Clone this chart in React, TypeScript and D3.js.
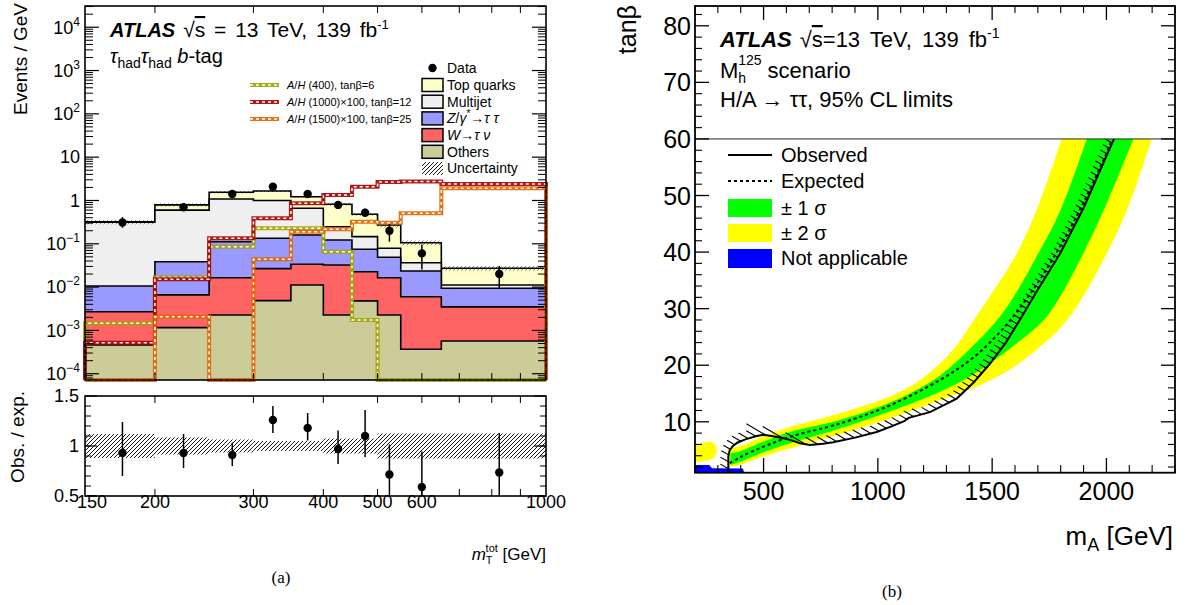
import React from 'react';
import * as d3 from 'd3';

const FONT = "'Liberation Sans', Arial, Helvetica, sans-serif";

// ---------- (a) m_T^tot, tau_had tau_had b-tag ----------
const binEdges = [150, 200, 250, 300, 350, 400, 450, 500, 550, 650, 1000];
// cumulative stack heights (Events / GeV)
const othersTop = [4.6e-4, 1.16e-3, 2.27e-3, 4.86e-3, 1.12e-2, 2.27e-3, 4.8e-3, 2.27e-3, 3.66e-4, 5.7e-4];
const wTauNuTop = [2.7e-3, 6.6e-3, 0.0165, 0.0267, 0.0336, 0.0324, 0.0227, 0.0165, 6.0e-3, 3.5e-3];
const zTauTauTop = [0.0106, 0.0386, 0.112, 0.134, 0.16, 0.122, 0.0746, 0.0488, 0.0235, 9.4e-3];
const multijetTop = [0.313, 0.6, 1.08, 0.996, 0.66, 0.248, 0.146, 0.0787, 0.0366, 0.0112];
const topQuarksTop = [0.32, 0.79, 1.55, 1.66, 1.22, 0.82, 0.48, 0.272, 0.106, 0.0272];
// signals (0 = empty bin)
const sig400 = [1.46e-3, 0.0168, 0.0857, 0.228, 0.228, 0.0657, 1.74e-3, 0, 0, 0];
const sig1000 = [5.2e-4, 0.0151, 0.134, 0.388, 0.86, 1.34, 2.08, 2.68, 2.75, 2.4];
const sig1500 = [0, 2.07e-3, 0, 0.0438, 0.19, 0.216, 0.324, 0.307, 0.506, 1.91];
const dataVals = [0.31, 0.7, 1.41, 2.08, 1.41, 0.79, 0.52, 0.2, 0.06, 0.02];
const ratioVals = [0.93, 0.93, 0.91, 1.26, 1.18, 0.97, 1.1, 0.715, 0.59, 0.735];
const ratioHi = [1.24, 1.12, 1.035, 1.4, 1.33, 1.155, 1.36, 1.015, 0.945, 1.13];
const ratioLo = [0.7, 0.78, 0.8, 1.13, 1.055, 0.82, 0.89, 0.4, 0.25, 0.35];
const ratioUnc = [0.12, 0.085, 0.065, 0.05, 0.05, 0.075, 0.075, 0.125, 0.125, 0.125];
const massLabels = [150, 200, 300, 400, 500, 600, 1000];

// ---------- (b) tanβ vs m_A limits ----------
const observedLimit = [[346, 1.0], [346, 3.9], [352, 5.0], [365, 5.7], [385, 6.3], [420, 6.9], [470, 7.5], [500, 7.7],
  [560, 7.3], [616, 6.8], [660, 6.2], [703, 5.9], [760, 6.1], [805, 6.4], [900, 7.2], [995, 8.2], [1060, 9.2],
  [1115, 10.1], [1135, 10.7], [1228, 11.7], [1345, 14.1], [1420, 17.0], [1491, 20.3], [1560, 24.0], [1615, 27.6],
  [1700, 33.4], [1797, 39.7], [1900, 47.8], [2033, 60]];
const expectedLimit = [[352, 2.7], [400, 3.8], [500, 5.6], [616, 7.35], [834, 9.7], [1053, 12.9], [1272, 17.4],
  [1400, 20.8], [1500, 24.4], [1600, 29.0], [1700, 34.6], [1800, 41.2], [1900, 48.8], [2000, 57.5], [2025, 60]];
const band1Up = [[355, 4.4], [397, 4.8], [500, 6.5], [616, 8.2], [834, 10.3], [1053, 13.4], [1180, 15.9], [1272, 18.2],
  [1400, 22.8], [1520, 27.9], [1600, 32.5], [1701, 39.7], [1800, 47.5], [1914, 60]];
const band1Dn = [[355, 2.4], [397, 2.9], [500, 4.6], [616, 6.2], [834, 8.8], [1053, 11.8], [1272, 15.3], [1400, 17.9],
  [1500, 20.6], [1600, 23.6], [1724, 27.9], [1800, 32.3], [1898, 39.7], [2000, 48.5], [2118, 60]];
const band2Up = [[342, 5.3], [397, 5.7], [500, 7.5], [616, 9.1], [834, 11.5], [1053, 14.5], [1170, 17.0], [1272, 20.3],
  [1350, 23.8], [1418, 27.9], [1500, 32.8], [1607, 39.7], [1700, 48.0], [1804, 60]];
const band2Dn = [[342, 2.0], [397, 2.4], [500, 3.9], [616, 5.3], [834, 7.8], [1053, 10.6], [1272, 13.8], [1491, 17.3],
  [1650, 21.3], [1826, 27.9], [2001, 39.7], [2100, 48.5], [2198, 60]];
const yellowBlob = [[200, 3.0], [200, 5.8], [230, 6.2], [265, 6.5], [288, 6.0], [295, 5.0], [285, 3.8], [260, 3.2], [230, 3.0]];
const notApplicable = [[200, 1], [200, 2.35], [262, 2.35], [275, 1.8], [410, 1.75], [415, 1]];

function PanelA() {
  const x = d3.scaleLog().domain([150, 1000]).range([85, 546]);
  const y = d3.scaleLog().domain([10 ** -4.145, 10 ** 4.49]).range([380, 6]);
  const yr = d3.scaleLinear().domain([0.5, 1.5]).range([496, 396]);
  const [yMin, yMax] = y.domain();
  const clamp = (v) => Math.max(v, yMin);
  const steps = (vals) => vals.flatMap((v, i) => [[binEdges[i], clamp(v)], [binEdges[i + 1], clamp(v)]]);
  const line = d3.line().x(d => x(d[0])).y(d => y(d[1]));
  const area = d3.area().x(d => x(d[0])).y0(y(yMin)).y1(d => y(d[1]));
  const centers = binEdges.slice(0, -1).map((e, i) => (e + binEdges[i + 1]) / 2);

  const stacks = [
    { vals: topQuarksTop, fill: '#ffffcc' },
    { vals: multijetTop, fill: '#efefef' },
    { vals: zTauTauTop, fill: '#9999ff' },
    { vals: wTauNuTop, fill: '#ff6464' },
    { vals: othersTop, fill: '#cccc99' },
  ];
  const signals = [
    { vals: sig400, color: '#a3a300', label: <><tspan fontStyle="italic">A</tspan>/<tspan fontStyle="italic">H</tspan> (400), tanβ=6</> },
    { vals: sig1000, color: '#a80000', label: <><tspan fontStyle="italic">A</tspan>/<tspan fontStyle="italic">H</tspan> (1000)×100, tanβ=12</> },
    { vals: sig1500, color: '#e06400', label: <><tspan fontStyle="italic">A</tspan>/<tspan fontStyle="italic">H</tspan> (1500)×100, tanβ=25</> },
  ];
  const legend = [
    { fill: '#ffffcc', label: <>Top quarks</> },
    { fill: '#efefef', label: <>Multijet</> },
    { fill: '#9999ff', label: <><tspan fontStyle="italic">Z</tspan>/<tspan fontStyle="italic">γ</tspan><tspan dy={-6} fontSize={10}>*</tspan><tspan dy={6}>→</tspan><tspan fontStyle="italic">τ τ</tspan></> },
    { fill: '#ff6464', label: <><tspan fontStyle="italic">W</tspan>→<tspan fontStyle="italic">τ ν</tspan></> },
    { fill: '#cccc99', label: <>Others</> },
    { fill: 'url(#hatchA)', label: <>Uncertainty</>, noStroke: true },
  ];

  const majors = d3.range(-4, 5);
  const minors = d3.range(-5, 5).flatMap(k => d3.range(2, 10).map(m => m * 10 ** k)).filter(v => v > yMin && v < yMax);
  const xTicks = d3.range(200, 1000, 100);
  const rMinor = d3.range(0.6, 1.45, 0.1);

  return (
    <g>
      {/* stacked backgrounds */}
      {stacks.map((s, i) => (
        <g key={i}>
          <path d={area(steps(s.vals))} fill={s.fill} />
          <path d={line(steps(s.vals))} fill="none" stroke="#000" strokeWidth={1.6} />
        </g>
      ))}
      {/* uncertainty on the total */}
      {topQuarksTop.map((t, i) => (
        <rect key={i} x={x(binEdges[i])} width={x(binEdges[i + 1]) - x(binEdges[i])}
          y={y(t * (1 + ratioUnc[i]))} height={y(t * (1 - ratioUnc[i])) - y(t * (1 + ratioUnc[i]))} fill="url(#hatchA)" opacity={0.5} />
      ))}
      {/* signals */}
      {signals.map((s, i) => {
        const d = line([[150, yMin], ...steps(s.vals), [1000, yMin]]);
        return (
          <g key={i}>
            <path d={d} fill="none" stroke={s.color} strokeWidth={4} opacity={0.9} />
            <path d={d} fill="none" stroke="#fff" strokeWidth={1.5} strokeDasharray="3 3" />
          </g>
        );
      })}
      {/* data */}
      {dataVals.map((v, i) => (
        <g key={i}>
          <line x1={x(centers[i])} x2={x(centers[i])} y1={y(v * ratioHi[i] / ratioVals[i])} y2={y(v * ratioLo[i] / ratioVals[i])} stroke="#000" strokeWidth={1.5} />
          <circle cx={x(centers[i])} cy={y(v)} r={4.2} fill="#000" />
        </g>
      ))}
      {/* upper frame and ticks */}
      <rect x={85} y={6} width={461} height={374} fill="none" stroke="#000" strokeWidth={1.6} />
      {majors.map(k => (
        <g key={k}>
          <line x1={85} x2={99} y1={y(10 ** k)} y2={y(10 ** k)} stroke="#000" strokeWidth={1.2} />
          <line x1={546} x2={532} y1={y(10 ** k)} y2={y(10 ** k)} stroke="#000" strokeWidth={1.2} />
          <text x={80} y={y(10 ** k)} dy="0.35em" textAnchor="end" fontSize={18}>
            {k === 0 ? '1' : k === 1 ? '10' : <><tspan>10</tspan><tspan dy={-8} fontSize={12}>{k < 0 ? '−' + (-k) : k}</tspan></>}
          </text>
        </g>
      ))}
      {minors.map((v, i) => (
        <g key={i}>
          <line x1={85} x2={93} y1={y(v)} y2={y(v)} stroke="#000" strokeWidth={1} />
          <line x1={546} x2={538} y1={y(v)} y2={y(v)} stroke="#000" strokeWidth={1} />
        </g>
      ))}
      {xTicks.map(v => (
        <g key={v}>
          <line x1={x(v)} x2={x(v)} y1={380} y2={373} stroke="#000" strokeWidth={1} />
          <line x1={x(v)} x2={x(v)} y1={6} y2={13} stroke="#000" strokeWidth={1} />
        </g>
      ))}
      <text transform="translate(27,3) rotate(-90)" textAnchor="end" fontSize={19}>Events / GeV</text>
      <text x={110} y={37} fontSize={20}>
        <tspan fontWeight="bold" fontStyle="italic">ATLAS</tspan>
        <tspan dx={8} fontSize={21}>√</tspan><tspan fontSize={21} textDecoration="overline">s</tspan>
        <tspan fontSize={21} wordSpacing={3}> = 13 TeV, 139 fb</tspan>
        <tspan dy={-8} fontSize={13}>-1</tspan>
      </text>
      <text x={110} y={63} fontSize={20}>
        <tspan fontStyle="italic">τ</tspan><tspan dy={5} fontSize={14}>had</tspan>
        <tspan dy={-5} fontStyle="italic">τ</tspan><tspan dy={5} fontSize={14}>had</tspan>
        <tspan dy={-5} fontStyle="italic"> b</tspan><tspan>-tag</tspan>
      </text>
      {/* legends */}
      {signals.map((s, i) => {
        const ly = 85 + i * 17;
        return (
          <g key={i}>
            <line x1={250} x2={279} y1={ly} y2={ly} stroke={s.color} strokeWidth={4} opacity={0.9} />
            <line x1={250} x2={279} y1={ly} y2={ly} stroke="#fff" strokeWidth={1.5} strokeDasharray="3 3" />
            <text x={287} y={ly} dy="0.35em" fontSize={11}>{s.label}</text>
          </g>
        );
      })}
      <circle cx={432.5} cy={68} r={4.2} fill="#000" />
      <text x={447} y={68} dy="0.35em" fontSize={14}>Data</text>
      {legend.map((l, i) => {
        const ly = 85 + i * 16.7;
        return (
          <g key={i}>
            <rect x={422} y={ly - 6.5} width={21} height={13} fill={l.fill} stroke={l.noStroke ? 'none' : '#000'} strokeWidth={1.5} />
            <text x={447} y={ly} dy="0.35em" fontSize={14}>{l.label}</text>
          </g>
        );
      })}

      {/* ratio pad */}
      {ratioUnc.map((u, i) => (
        <rect key={i} x={x(binEdges[i])} width={x(binEdges[i + 1]) - x(binEdges[i])}
          y={yr(1 + u)} height={yr(1 - u) - yr(1 + u)} fill="url(#hatchA)" />
      ))}
      {ratioVals.map((v, i) => (
        <g key={i}>
          <line x1={x(centers[i])} x2={x(centers[i])} y1={yr(Math.min(ratioHi[i], 1.5))} y2={yr(Math.max(ratioLo[i], 0.5))} stroke="#000" strokeWidth={1.5} />
          <circle cx={x(centers[i])} cy={yr(v)} r={4.2} fill="#000" />
        </g>
      ))}
      <rect x={85} y={396} width={461} height={100} fill="none" stroke="#000" strokeWidth={1.6} />
      {[0.5, 1, 1.5].map(v => (
        <g key={v}>
          <line x1={85} x2={97} y1={yr(v)} y2={yr(v)} stroke="#000" strokeWidth={1.2} />
          <line x1={546} x2={534} y1={yr(v)} y2={yr(v)} stroke="#000" strokeWidth={1.2} />
          <text x={79} y={yr(v)} dy="0.35em" textAnchor="end" fontSize={18}>{v}</text>
        </g>
      ))}
      {rMinor.map((v, i) => (
        <g key={i}>
          <line x1={85} x2={91} y1={yr(v)} y2={yr(v)} stroke="#000" strokeWidth={1} />
          <line x1={546} x2={540} y1={yr(v)} y2={yr(v)} stroke="#000" strokeWidth={1} />
        </g>
      ))}
      {xTicks.map(v => (
        <g key={v}>
          <line x1={x(v)} x2={x(v)} y1={496} y2={489} stroke="#000" strokeWidth={1} />
          <line x1={x(v)} x2={x(v)} y1={396} y2={403} stroke="#000" strokeWidth={1} />
        </g>
      ))}
      {massLabels.map(v => (
        <text key={v} x={x(v) + (v === 150 ? 7 : 0)} y={508} textAnchor="middle" fontSize={18}>{v}</text>
      ))}
      <text transform="translate(24,391) rotate(-90)" textAnchor="end" fontSize={19}>Obs. / exp.</text>
      <text x={546} y={560} textAnchor="end" fontSize={17}>
        <tspan fontStyle="italic">m</tspan>
        <tspan dy={4} fontSize={11}>T</tspan>
        <tspan dx={-7} dy={-12} fontSize={11}>tot</tspan>
        <tspan dy={8}> [GeV]</tspan>
      </text>
      <text x={281} y={583} textAnchor="middle" fontSize={17} fontFamily="'Liberation Serif', 'Times New Roman', serif">(a)</text>
    </g>
  );
}

function PanelB() {
  const x = d3.scaleLinear().domain([200, 2300]).range([695, 1175]);
  const y = d3.scaleLinear().domain([1, 83.5]).range([472.7, 6]);
  const line = d3.line().x(d => x(d[0])).y(d => y(d[1]));
  const smooth = d3.line().x(d => x(d[0])).y(d => y(d[1])).curve(d3.curveCatmullRom.alpha(0.5));
  const band = (up, dn) => smooth(up) + smooth([...dn].reverse()).replace(/^M/, 'L') + 'Z';
  const blob = d3.line().x(d => x(d[0])).y(d => y(d[1])).curve(d3.curveCatmullRomClosed);

  // hatch strokes on the excluded side of the observed limit (ROOT-style exclusion hatching)
  const obsPx = observedLimit.map(d => [x(d[0]), y(d[1])]);
  const obsD = 'M' + obsPx.map(p => p.join(',')).join('L');
  const ang = Math.PI / 6, hx = Math.cos(ang), hy = Math.sin(ang);
  const gap = 6, w = 8;
  const hatches = [];
  let prevPhase = null;
  for (let i = 0; i < obsPx.length - 1; i++) {
    const [x0, y0] = obsPx[i], [x1, y1] = obsPx[i + 1];
    const tx = x1 - x0, ty = y1 - y0, tl = Math.hypot(tx, ty) || 1;
    const n = Math.max(1, Math.ceil(tl * 2));
    for (let j = 0; j < n; j++) {
      const px = x0 + tx * j / n, py = y0 + ty * j / n;
      const phase = Math.floor((px * -hy + py * hx) / gap);
      if (prevPhase !== null && phase !== prevPhase) {
        const s = Math.abs((tx * hy - ty * hx) / tl);
        const L = Math.min(w / Math.max(s, 0.01), 24);
        hatches.push([px, py, px - hx * L, py - hy * L]);
      }
      prevPhase = phase;
    }
  }

  const y60 = y(60);
  const xMajor = [500, 1000, 1500, 2000];
  const xMinor = d3.range(200, 2301, 100).filter(v => v % 500 !== 0);
  const yMajor = d3.range(10, 81, 10);
  const yMinor = d3.range(2, 84, 2).filter(v => v % 10 !== 0);

  return (
    <g>
      <clipPath id="clipB"><rect x={695} y={y60} width={480} height={472.7 - y60} /></clipPath>
      <g clipPath="url(#clipB)">
        <path d={band(band2Up, band2Dn)} fill="#ffff00" />
        <path d={band(band1Up, band1Dn)} fill="#00ff00" />
        <path d={blob(yellowBlob)} fill="#ffff00" />
        <path d={line(notApplicable) + 'Z'} fill="#0000ff" />
        {hatches.map((h, i) => (
          <line key={i} x1={h[0]} y1={h[1]} x2={h[2]} y2={h[3]} stroke="#000" strokeWidth={1.1} />
        ))}
        <path d={smooth(expectedLimit)} fill="none" stroke="#000" strokeWidth={2} strokeDasharray="3 3" />
        <path d={obsD} fill="none" stroke="#000" strokeWidth={2} />
      </g>
      <line x1={695} x2={1175} y1={y60} y2={y60} stroke="#222" strokeWidth={1} />
      <rect x={695} y={6} width={480} height={466.7} fill="none" stroke="#000" strokeWidth={1.8} />
      {xMajor.map(v => (
        <g key={v}>
          <line x1={x(v)} x2={x(v)} y1={472.7} y2={458} stroke="#000" strokeWidth={1.3} />
          <line x1={x(v)} x2={x(v)} y1={6} y2={20} stroke="#000" strokeWidth={1.3} />
          <text x={x(v)} y={500} textAnchor="middle" fontSize={25}>{v}</text>
        </g>
      ))}
      {xMinor.map(v => (
        <g key={v}>
          <line x1={x(v)} x2={x(v)} y1={472.7} y2={465} stroke="#000" strokeWidth={1.1} />
          <line x1={x(v)} x2={x(v)} y1={6} y2={13} stroke="#000" strokeWidth={1.1} />
        </g>
      ))}
      {yMajor.map(v => (
        <g key={v}>
          <line x1={695} x2={709} y1={y(v)} y2={y(v)} stroke="#000" strokeWidth={1.3} />
          <line x1={1175} x2={1161} y1={y(v)} y2={y(v)} stroke="#000" strokeWidth={1.3} />
          <text x={691} y={y(v)} dy="0.36em" textAnchor="end" fontSize={25}>{v}</text>
        </g>
      ))}
      {yMinor.map(v => (
        <g key={v}>
          <line x1={695} x2={702} y1={y(v)} y2={y(v)} stroke="#000" strokeWidth={1.1} />
          <line x1={1175} x2={1168} y1={y(v)} y2={y(v)} stroke="#000" strokeWidth={1.1} />
        </g>
      ))}
      <text transform="translate(636,5) rotate(-90)" textAnchor="end" fontSize={25}>tanβ</text>
      <text x={1173} y={545} textAnchor="end" fontSize={26}>m<tspan dy={6} fontSize={18}>A</tspan><tspan dy={-6}> [GeV]</tspan></text>

      <text x={720} y={47} fontSize={22}>
        <tspan fontWeight="bold" fontStyle="italic">ATLAS</tspan>
        <tspan dx={8}>√</tspan><tspan textDecoration="overline">s</tspan>
        <tspan wordSpacing={4}>=13 TeV, 139 fb</tspan>
        <tspan dy={-9} fontSize={14}>-1</tspan>
      </text>
      <text x={720} y={78} fontSize={22}>
        M<tspan dy={5} fontSize={14}>h</tspan><tspan dx={-8} dy={-18} fontSize={14}>125</tspan><tspan dy={13}>  scenario</tspan>
      </text>
      <text x={720} y={107} fontSize={22}>H/A → ττ, 95% CL limits</text>

      <line x1={728} x2={772} y1={155} y2={155} stroke="#000" strokeWidth={2} />
      <text x={781} y={155} dy="0.35em" fontSize={20}>Observed</text>
      <line x1={728} x2={772} y1={181} y2={181} stroke="#000" strokeWidth={2} strokeDasharray="3 3" />
      <text x={781} y={181} dy="0.35em" fontSize={20}>Expected</text>
      <rect x={728} y={199} width={44} height={18} fill="#00ff00" />
      <text x={781} y={208} dy="0.35em" fontSize={20}>± 1 σ</text>
      <rect x={728} y={224} width={44} height={18} fill="#ffff00" />
      <text x={781} y={233} dy="0.35em" fontSize={20}>± 2 σ</text>
      <rect x={728} y={249} width={44} height={19} fill="#0000ff" />
      <text x={781} y={258} dy="0.35em" fontSize={20}>Not applicable</text>

      <text x={892} y={597} textAnchor="middle" fontSize={17} fontFamily="'Liberation Serif', 'Times New Roman', serif">(b)</text>
    </g>
  );
}

export default function App() {
  return (
    <svg width={1189} height={605} fontFamily={FONT} style={{ position: 'absolute', left: 0, top: 0, background: '#fff' }}>
      <defs>
        <pattern id="hatchA" width={4} height={4} patternUnits="userSpaceOnUse">
          <path d="M-1,1 L1,-1 M0,4 L4,0 M3,5 L5,3" stroke="#000" strokeWidth={0.9} />
        </pattern>
      </defs>
      <PanelA />
      <PanelB />
    </svg>
  );
}
